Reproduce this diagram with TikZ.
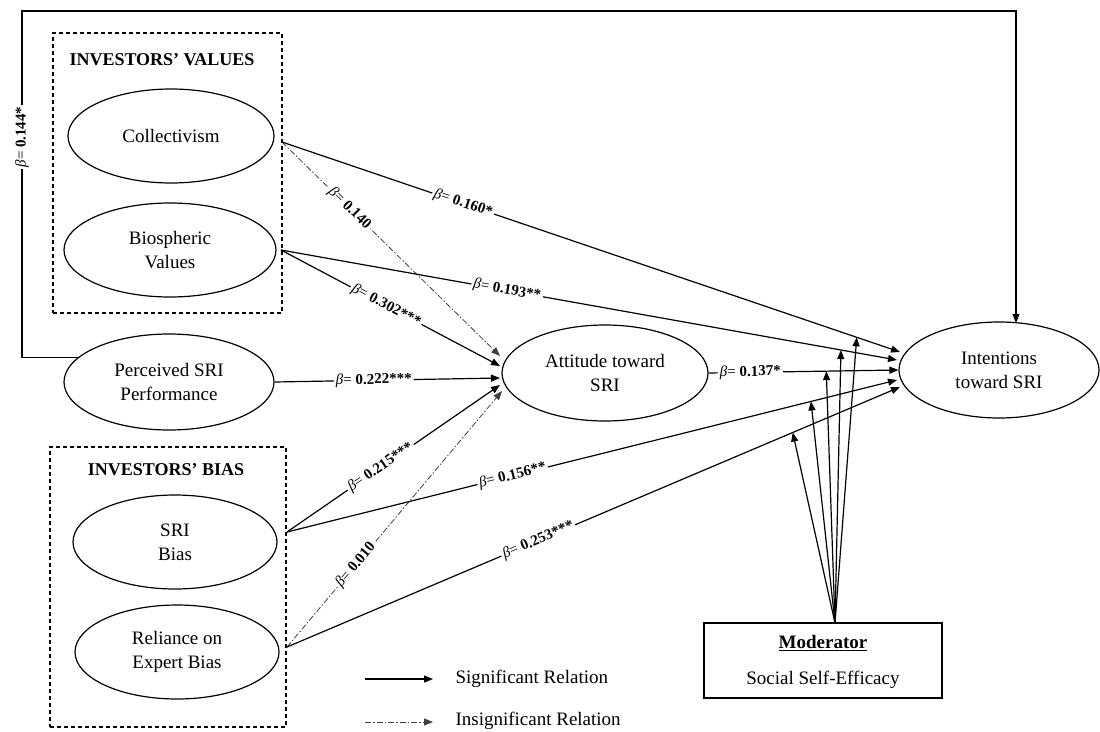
\documentclass[tikz,border=0pt]{standalone}
\usepackage{fontspec}
\setmainfont{Liberation Serif}
\usetikzlibrary{arrows.meta,shapes.geometric,calc}
\newcommand{\betalab}[1]{{\itshape β}= \textbf{#1}}
\begin{document}
\begin{tikzpicture}[x=1pt,y=-1pt,
  lat/.style={draw, ellipse, line width=1.2pt, inner sep=0pt, align=center, font=\fontsize{19}{24}\selectfont},
  grp/.style={draw, dash pattern=on 4pt off 3pt, line width=1.1pt, inner sep=0pt},
  grptitle/.style={font=\fontsize{18}{20}\selectfont\bfseries},
  sig/.style={line width=1.2pt, -{Triangle[length=9pt,width=7pt]}},
  insig/.style={line width=0.8pt, draw=black!75, dash pattern=on 6pt off 2pt on 1.5pt off 2pt, -{Triangle[length=9pt,width=7pt]}},
  beta/.style={fill=white, inner sep=2pt, font=\fontsize{15}{17}\selectfont},
  legtext/.style={anchor=west, font=\fontsize{19}{22}\selectfont}
]
\useasboundingbox (0,0) rectangle (1100,731);

% groups
\node[grp, minimum width=229pt, minimum height=280pt] (valbox) at (167.5,173) {};
\node[grptitle] (valtitle) at (162,60) {INVESTORS’ VALUES};
\node[grp, minimum width=236pt, minimum height=280pt] (biasbox) at (168,587) {};
\node[grptitle] (biastitle) at (166,470) {INVESTORS’ BIAS};

% constructs
\node[lat, minimum width=206pt, minimum height=94pt] (col) at (171,136) {Collectivism};
\node[lat, minimum width=212pt, minimum height=94pt] (bio) at (170,250) {Biospheric\\Values};
\node[lat, minimum width=210pt, minimum height=96pt] (perc) at (169,382) {Perceived SRI\\Performance};
\node[lat, minimum width=204pt, minimum height=94pt] (sri) at (175,542) {SRI\\Bias};
\node[lat, minimum width=204pt, minimum height=94pt] (rel) at (177,652) {Reliance on\\Expert Bias};
\node[lat, minimum width=206pt, minimum height=96pt] (att) at (605,373) {Attitude toward\\SRI};
\node[lat, minimum width=200pt, minimum height=96pt] (int) at (999,370) {Intentions\\toward SRI};

% moderator
\node[draw, line width=1.2pt, minimum width=238pt, minimum height=75pt, inner sep=0pt] (mod) at (823,660.5) {};
\node[font=\fontsize{19}{22}\selectfont\bfseries] (modt) at (823,643) {\underline{Moderator}};
\node[font=\fontsize{19}{22}\selectfont] (mods) at (823,680) {Social Self-Efficacy};

% end points
\coordinate (colout) at (282,142);
\coordinate (bioout) at (281,250);
\coordinate (sriout) at (287,532);
\coordinate (relout) at (287,647);
\coordinate (a1) at (500,356);
\coordinate (a2) at (500,366);
\coordinate (a3) at (500,378);
\coordinate (a4) at (500,385);
\coordinate (a5) at (502,391);
\coordinate (i1) at (900,352);
\coordinate (i2) at (897,360);
\coordinate (i4) at (897,380);
\coordinate (i5) at (900,387);
\coordinate (modtop) at (835,623);
\coordinate (inttop) at (1016,323);

% paths to attitude
\draw[insig] (colout) -- node[beta,sloped,pos=0.31]{\betalab{0.140}} (a1);
\draw[sig] (bioout) -- node[beta,sloped,pos=0.48]{\betalab{0.302***}} (a2);
\draw[sig] (perc.east) -- node[beta,sloped,pos=0.44]{\betalab{0.222***}} (a3);
\draw[sig] (sriout) -- node[beta,sloped,pos=0.44]{\betalab{0.215***}} (a4);
\draw[insig] (relout) -- node[beta,sloped,pos=0.32]{\betalab{0.010}} (a5);

% paths to intentions
\draw[sig] (colout) -- node[beta,sloped,pos=0.293]{\betalab{0.160*}} coordinate[pos=0.93] (m1) (i1);
\draw[sig] (bioout) -- node[beta,sloped,pos=0.367]{\betalab{0.193**}} coordinate[pos=0.909] (m2) (i2);
\draw[sig] (att.east) -- node[beta,sloped,pos=0.22]{\betalab{0.137*}} coordinate[pos=0.62] (m3) (int.west);
\draw[sig] (sriout) -- node[beta,sloped,pos=0.37]{\betalab{0.156**}} coordinate[pos=0.859] (m4) (i4);
\draw[sig] (relout) -- node[beta,sloped,pos=0.41]{\betalab{0.253***}} coordinate[pos=0.825] (m5) (i5);

% perceived performance -> intentions (outer frame)
\draw[sig] (perc.165) -| (22,11) -| (inttop);
\node[beta, rotate=90] (b144) at (22,137) {\betalab{0.144*}};

% moderator arrows
\draw[sig] (modtop) -- (m1);
\draw[sig] (modtop) -- (m2);
\draw[sig] (modtop) -- (m3);
\draw[sig] (modtop) -- (m4);
\draw[sig] (modtop) -- (m5);

% legend
\coordinate (l1s) at (365,679);
\coordinate (l1e) at (433,679);
\coordinate (l2s) at (365,722);
\coordinate (l2e) at (433,722);
\draw[sig] (l1s) -- (l1e);
\draw[insig] (l2s) -- (l2e);
\node[legtext] (l1t) at (452,679) {Significant Relation};
\node[legtext] (l2t) at (452,721) {Insignificant Relation};
\end{tikzpicture}
\end{document}
